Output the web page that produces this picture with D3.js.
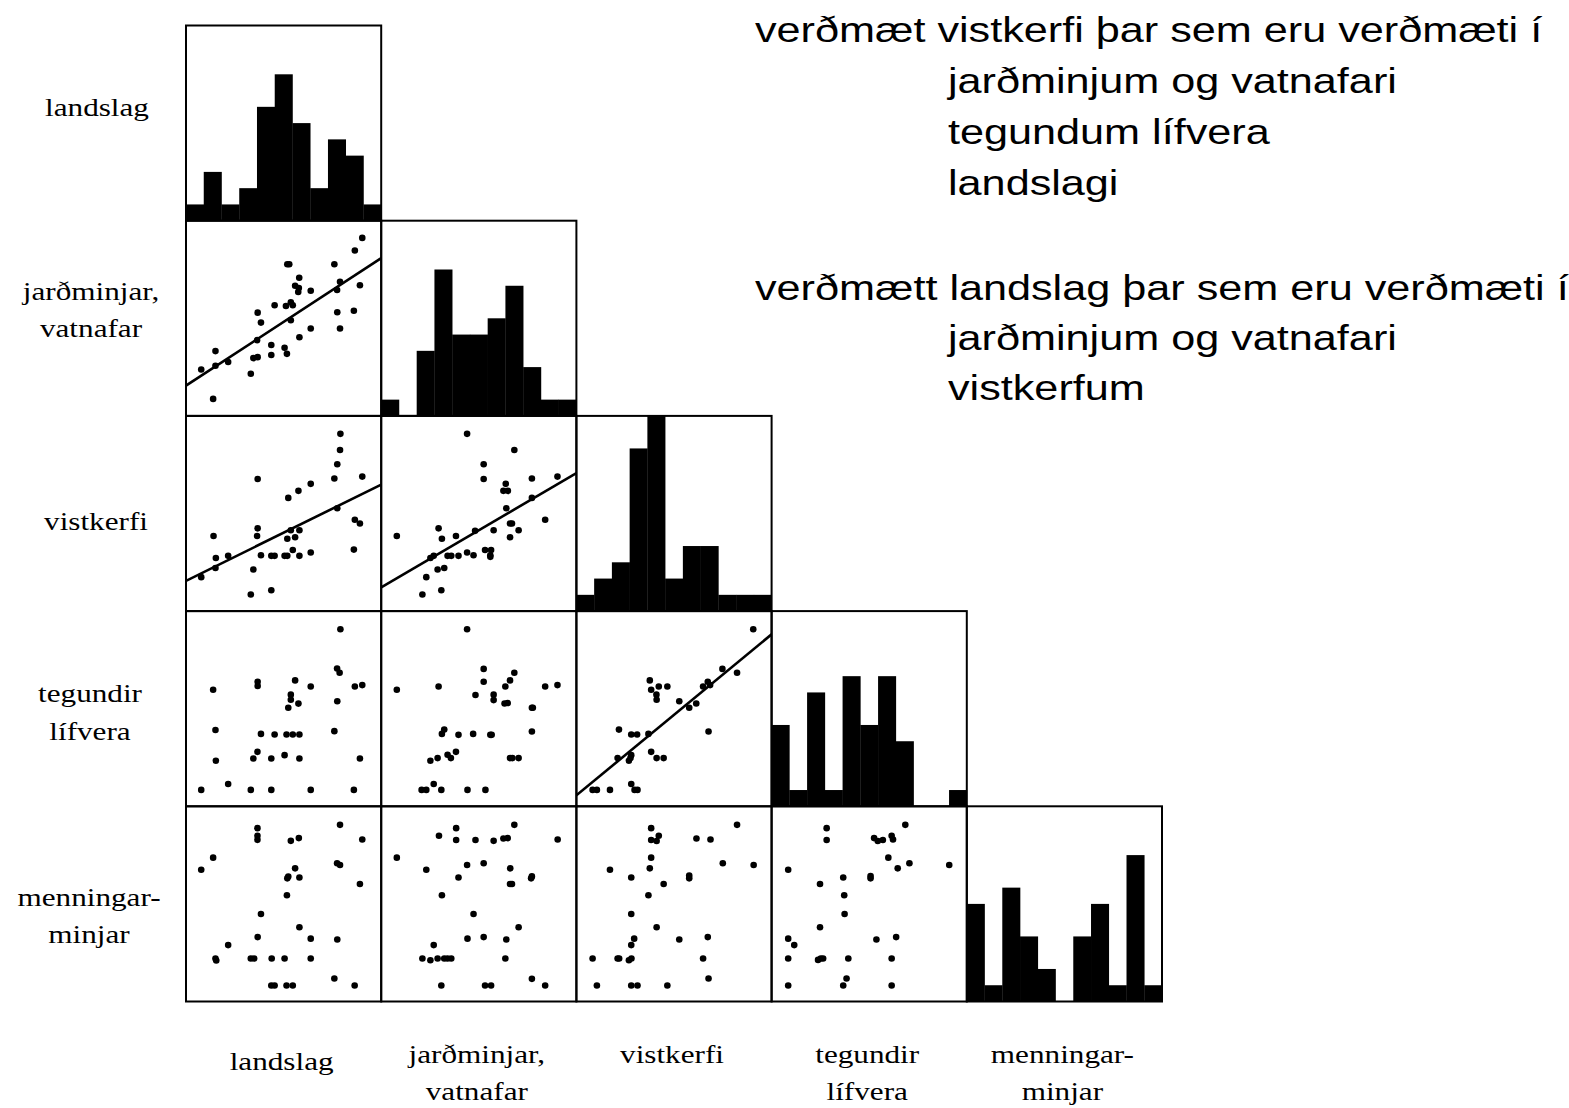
<!DOCTYPE html>
<html><head><meta charset="utf-8">
<script src="https://cdn.jsdelivr.net/npm/d3@7/dist/d3.min.js"></script>
<style>body{margin:0;background:#fff}svg{display:block}</style>
</head><body>
<svg id="chart" width="1569" height="1108"></svg>
<script>
// ---------------- data ----------------
const variableNames = ["landslag", "jarðminjar, vatnafar", "vistkerfi", "tegundir lífvera", "menningarminjar"];
const rowLabelLines = [["landslag"], ["jarðminjar,", "vatnafar"], ["vistkerfi"], ["tegundir", "lífvera"], ["menningar-", "minjar"]];
const colLabelLines = [["landslag"], ["jarðminjar,", "vatnafar"], ["vistkerfi"], ["tegundir", "lífvera"], ["menningar-", "minjar"]];
const noteLines1 = ["verðmæt vistkerfi þar sem eru verðmæti í", "jarðminjum og vatnafari", "tegundum lífvera", "landslagi"];
const noteLines2 = ["verðmætt landslag þar sem eru verðmæti í", "jarðminjum og vatnafari", "vistkerfum"];

// histogram counts (11 equal bins per variable)
const histLandslag   = [1, 3, 1, 2, 7, 9, 6, 2, 5, 4, 1];
const histJardminjar = [1, 0, 4, 9, 5, 5, 6, 8, 3, 1, 1];
const histVistkerfi  = [1, 2, 3, 10, 12, 2, 4, 4, 1, 1, 1];
const histTegundir   = [5, 1, 7, 1, 8, 5, 8, 4, 0, 0, 1];
const histMenning    = [6, 1, 7, 4, 2, 0, 4, 6, 1, 9, 1];

// scatter pairs [x, y] on a 0-10 score scale
const jardVsLand = [[9.03,9.12],[8.65,8.47],[5.19,7.77],[5.29,7.77],[7.60,7.77],[5.80,7.08],[5.59,6.67],[5.78,6.55],[5.75,6.35],[7.89,6.87],[7.74,6.45],[8.91,6.69],[6.39,6.41],[4.54,5.67],[5.12,5.63],[5.37,5.82],[5.47,5.67],[3.67,5.29],[3.84,4.78],[5.37,4.90],[7.75,5.31],[8.60,5.39],[7.89,4.48],[6.39,4.48],[5.81,4.03],[3.64,3.88],[4.37,3.63],[1.51,3.32],[5.05,3.49],[5.17,3.18],[4.37,3.12],[3.45,2.96],[3.67,3.01],[2.16,2.76],[0.78,2.38],[1.51,2.57],[3.32,2.16],[1.39,0.87]];
const vistVsLand = [[7.91,9.08],[7.89,8.25],[7.75,7.52],[3.67,6.77],[7.60,6.79],[9.03,6.89],[6.39,6.52],[5.76,6.16],[5.24,5.80],[7.75,5.27],[8.65,4.68],[8.91,4.49],[3.67,4.24],[3.64,3.85],[1.41,3.85],[5.37,4.14],[5.81,4.14],[5.19,3.71],[5.59,3.78],[5.47,3.13],[3.84,2.86],[4.37,2.83],[4.54,2.83],[5.05,2.83],[5.19,2.83],[5.81,2.83],[6.39,3.00],[8.60,3.15],[2.16,2.83],[1.53,2.72],[1.51,2.21],[0.78,1.74],[3.45,2.13],[4.37,1.07],[3.32,0.85]];
const vistVsJard = [[4.40,9.08],[6.82,8.25],[5.25,7.52],[5.25,6.77],[7.72,6.79],[9.03,6.89],[6.38,6.52],[6.26,6.16],[6.49,6.16],[6.41,5.27],[7.72,5.80],[8.40,4.68],[6.60,4.49],[6.70,4.49],[7.04,4.14],[5.76,4.14],[4.81,4.11],[6.60,3.78],[2.94,4.24],[3.11,3.71],[3.83,3.85],[0.80,3.85],[5.32,3.13],[5.63,3.13],[5.59,2.86],[5.59,2.78],[4.73,2.86],[4.40,3.00],[3.96,2.83],[3.40,2.83],[3.59,2.83],[2.52,2.72],[2.69,2.83],[2.89,2.13],[3.23,2.21],[2.31,1.74],[3.08,1.07],[2.11,0.85]];
const tegVsLand = [[7.91,9.07],[7.74,7.06],[7.87,6.84],[3.67,6.38],[3.67,6.16],[5.59,6.45],[6.39,6.14],[1.39,5.97],[8.65,6.14],[9.03,6.21],[5.37,5.72],[5.37,5.46],[5.24,5.05],[5.76,5.26],[7.75,5.38],[1.51,3.91],[7.60,3.85],[3.84,3.71],[4.54,3.68],[5.15,3.68],[5.47,3.68],[5.81,3.68],[3.66,2.79],[3.45,2.45],[4.37,2.45],[5.05,2.62],[5.81,2.45],[1.53,2.33],[8.91,2.45],[2.16,1.14],[0.78,0.84],[3.32,0.84],[4.37,0.84],[6.39,0.84],[8.60,0.84]];
const tegVsJard = [[4.40,9.07],[5.25,7.04],[6.82,6.84],[6.60,6.45],[5.25,6.38],[6.36,6.14],[8.40,6.14],[9.03,6.21],[2.94,6.14],[0.80,5.97],[4.83,5.70],[5.76,5.72],[5.76,5.44],[6.32,5.27],[6.48,5.29],[7.72,5.05],[7.77,5.05],[7.72,3.83],[3.23,3.93],[3.11,3.71],[3.96,3.66],[4.71,3.71],[5.59,3.66],[5.66,3.66],[3.83,2.79],[3.40,2.64],[3.57,2.47],[2.89,2.47],[2.52,2.33],[6.60,2.47],[6.72,2.47],[7.04,2.47],[2.69,1.14],[2.07,0.84],[2.31,0.84],[3.08,0.84],[4.42,0.84],[5.34,0.84]];
const tegVsVist = [[9.06,9.07],[7.48,7.04],[8.23,6.84],[6.73,6.38],[6.85,6.21],[6.49,6.14],[3.76,6.45],[4.22,6.14],[4.66,6.14],[3.83,5.97],[4.10,5.72],[4.11,5.46],[5.27,5.38],[5.78,5.05],[6.14,5.27],[6.77,3.83],[2.18,3.93],[2.81,3.68],[3.11,3.68],[3.69,3.71],[3.83,2.79],[4.11,2.47],[4.47,2.47],[2.11,2.47],[2.81,2.62],[2.69,2.33],[2.77,2.47],[2.81,1.14],[2.98,0.84],[3.13,0.84],[0.83,0.84],[1.05,0.84],[1.72,0.84]];
const menVsLand = [[7.89,9.05],[3.66,8.88],[3.66,8.49],[3.66,8.28],[5.37,8.23],[5.78,8.37],[9.03,8.30],[1.39,7.37],[0.78,6.75],[7.74,7.08],[7.89,6.99],[5.59,6.82],[5.24,6.40],[5.19,6.31],[5.81,6.35],[8.91,6.02],[5.17,5.44],[3.84,4.48],[5.81,3.80],[3.67,3.30],[2.16,2.89],[6.39,3.22],[7.75,3.18],[1.51,2.20],[1.55,2.10],[3.32,2.20],[3.49,2.20],[4.39,2.20],[5.05,2.20],[6.39,2.20],[7.60,1.18],[4.37,0.82],[4.54,0.82],[5.15,0.82],[5.47,0.82],[8.64,0.82]];
const menVsJard = [[6.82,9.05],[3.84,8.88],[2.96,8.49],[3.84,8.27],[4.83,8.27],[5.76,8.23],[6.26,8.35],[6.48,8.37],[9.04,8.30],[0.80,7.37],[2.31,6.75],[4.40,6.99],[5.25,7.08],[6.61,6.82],[3.96,6.35],[7.72,6.41],[7.68,6.31],[6.60,6.02],[6.70,6.02],[3.11,5.44],[4.73,4.48],[7.04,3.80],[4.42,3.22],[5.25,3.30],[6.41,3.18],[2.69,2.89],[2.11,2.20],[2.52,2.11],[2.89,2.20],[3.23,2.20],[3.40,2.20],[3.59,2.20],[6.36,2.20],[7.72,1.16],[3.08,0.82],[5.32,0.82],[5.63,0.82],[8.40,0.82]];
const menVsVist = [[8.23,9.05],[3.83,8.88],[4.22,8.49],[3.83,8.27],[4.11,8.22],[6.15,8.35],[6.87,8.30],[3.83,7.37],[1.72,6.75],[3.76,6.82],[7.50,7.08],[9.08,6.99],[2.81,6.35],[5.78,6.45],[5.78,6.31],[4.47,6.02],[3.69,5.44],[2.81,4.48],[4.11,3.80],[2.96,3.22],[5.27,3.18],[6.73,3.30],[2.81,2.89],[0.83,2.20],[2.11,2.20],[2.19,2.20],[2.69,2.11],[2.82,2.20],[6.49,2.20],[6.77,1.18],[1.05,0.82],[2.81,0.82],[3.13,0.82],[4.66,0.82]];
const menVsTeg = [[6.85,9.05],[2.82,8.88],[2.82,8.27],[5.25,8.37],[5.44,8.22],[5.70,8.27],[6.15,8.49],[6.22,8.30],[5.98,7.37],[7.06,7.08],[6.46,6.82],[9.10,6.99],[0.85,6.75],[3.67,6.35],[5.07,6.43],[5.07,6.31],[2.48,6.02],[3.72,5.44],[3.74,4.48],[2.48,3.80],[0.85,3.22],[1.16,2.89],[5.37,3.18],[6.38,3.30],[0.85,2.20],[2.38,2.13],[2.52,2.20],[2.64,2.20],[3.93,2.20],[6.15,2.20],[3.84,1.18],[0.85,0.82],[3.67,0.82],[6.15,0.82]];

// fitted regression lines: [intercept, value at x = 10]
const fitJardLand = [1.55, 8.08];
const fitVistLand = [1.55, 6.48];
const fitVistJard = [1.21, 7.07];
const fitTegVist  = [0.56, 8.81];

// ---------------- layout ----------------
const svg = d3.select("#chart");
const x0 = 186, y0 = 25.5, cell = 195.2;
const n = 5;
const scaleDomain = [0, 10];
const colX = c => d3.scaleLinear().domain(scaleDomain).range([x0 + c * cell, x0 + (c + 1) * cell]);
const rowY = r => d3.scaleLinear().domain(scaleDomain).range([y0 + (r + 1) * cell, y0 + r * cell]);

const hists = [histLandslag, histJardminjar, histVistkerfi, histTegundir, histMenning];
const scatters = [
  {r:1, c:0, pts: jardVsLand, fit: fitJardLand},
  {r:2, c:0, pts: vistVsLand, fit: fitVistLand},
  {r:2, c:1, pts: vistVsJard, fit: fitVistJard},
  {r:3, c:0, pts: tegVsLand},
  {r:3, c:1, pts: tegVsJard},
  {r:3, c:2, pts: tegVsVist, fit: fitTegVist},
  {r:4, c:0, pts: menVsLand},
  {r:4, c:1, pts: menVsJard},
  {r:4, c:2, pts: menVsVist},
  {r:4, c:3, pts: menVsTeg}
];

const defs = svg.append("defs");

// histograms on the diagonal
hists.forEach((counts, i) => {
  const bx = d3.scaleLinear().domain([0, counts.length]).range([x0 + i * cell, x0 + (i + 1) * cell]);
  const hy = d3.scaleLinear().domain([0, 12]).range([y0 + (i + 1) * cell, y0 + i * cell]);
  svg.append("g").selectAll("rect").data(counts).join("rect")
    .attr("x", (d, k) => bx(k))
    .attr("width", (d, k) => bx(k + 1) - bx(k) + 0.3)
    .attr("y", d => hy(d))
    .attr("height", d => hy(0) - hy(d))
    .attr("fill", "#000");
});

// scatter panels
scatters.forEach((p, idx) => {
  const sx = colX(p.c), sy = rowY(p.r);
  const id = "clip" + idx;
  defs.append("clipPath").attr("id", id).append("rect")
    .attr("x", x0 + p.c * cell).attr("y", y0 + p.r * cell).attr("width", cell).attr("height", cell);
  const g = svg.append("g").attr("clip-path", `url(#${id})`);
  if (p.fit) {
    g.append("line")
      .attr("x1", sx(0)).attr("y1", sy(p.fit[0]))
      .attr("x2", sx(10)).attr("y2", sy(p.fit[1]))
      .attr("stroke", "#000").attr("stroke-width", 2.6);
  }
  g.selectAll("circle").data(p.pts).join("circle")
    .attr("cx", d => sx(d[0])).attr("cy", d => sy(d[1]))
    .attr("r", 3.3).attr("fill", "#000");
});

// panel frames
const frames = [];
for (let r = 0; r < n; r++) for (let c = 0; c <= r; c++) frames.push({r, c});
svg.append("g").selectAll("rect").data(frames).join("rect")
  .attr("x", d => x0 + d.c * cell).attr("y", d => y0 + d.r * cell)
  .attr("width", cell).attr("height", cell)
  .attr("fill", "none").attr("stroke", "#000").attr("stroke-width", 2);

// labels (text is horizontally stretched as in the original)
const stretch = 1.2;
function label(x, y, txt, size, family, anchor) {
  svg.append("text")
    .attr("transform", `translate(${x},${y}) scale(${stretch},1)`)
    .attr("text-anchor", anchor || "middle")
    .attr("font-family", family)
    .attr("font-size", size)
    .attr("fill", "#000")
    .text(txt);
}
const serif = "'Liberation Serif', 'Times New Roman', serif";
const sans = "'Liberation Sans', Arial, sans-serif";

const rowLabelPos = [
  {x: 97, ys: [116]},
  {x: 91, ys: [300, 337]},
  {x: 96, ys: [530]},
  {x: 90, ys: [702, 740]},
  {x: 89, ys: [906, 943]}
];
rowLabelLines.forEach((lines, i) => {
  lines.forEach((t, k) => label(rowLabelPos[i].x, rowLabelPos[i].ys[k], t, 26, serif));
});
const colLabelYs = [[1070], [1063, 1100], [1063], [1063, 1100], [1063, 1100]];
colLabelLines.forEach((lines, i) => {
  lines.forEach((t, k) => label(x0 + (i + 0.5) * cell - 2, colLabelYs[i][k], t, 26, serif));
});

// explanatory note (top right)
const noteYs1 = [42, 93, 144, 195];
const noteYs2 = [300, 350, 400];
noteLines1.forEach((t, k) => label(k === 0 ? 755 : 948, noteYs1[k], t, 36, sans, "start"));
noteLines2.forEach((t, k) => label(k === 0 ? 755 : 948, noteYs2[k], t, 36, sans, "start"));
</script>
</body></html>
